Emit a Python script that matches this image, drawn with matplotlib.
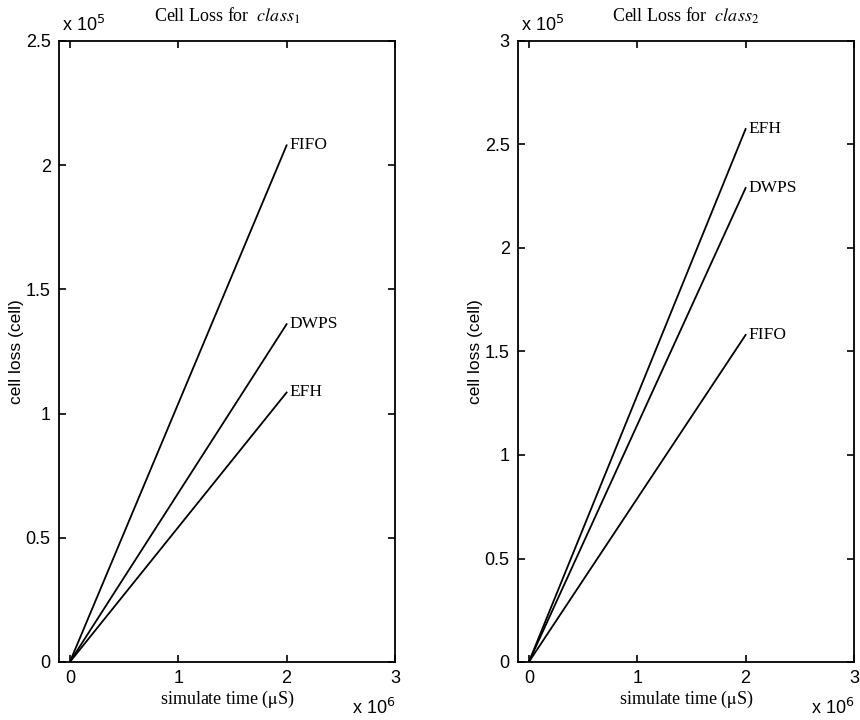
import matplotlib
matplotlib.use("Agg")
import matplotlib.pyplot as plt

plt.rcParams['mathtext.fontset'] = 'stix'
SANS = 'Liberation Sans'
SERIF = 'Liberation Serif'

# Data (x in units of 1e6 uS, y in units of 1e5 cells)
schemes = ["FIFO", "DWPS", "EFH"]
time_pts = [0.0, 2.0]
class1_end = {"FIFO": 2.08, "DWPS": 1.36, "EFH": 1.085}
class2_end = {"FIFO": 1.58, "DWPS": 2.29, "EFH": 2.575}
xticks = [0, 1, 2, 3]
yticks1 = [0, 0.5, 1, 1.5, 2, 2.5]
yticks2 = [0, 0.5, 1, 1.5, 2, 2.5, 3]
titles = [r"Cell Loss for  $\mathit{class}_1$", r"Cell Loss for  $\mathit{class}_2$"]

fig = plt.figure(figsize=(8.6, 7.2), dpi=100)
ax1 = fig.add_axes([59/860, 1-662/720, 336/860, 621/720])
ax2 = fig.add_axes([518/860, 1-662/720, 336/860, 621/720])

for ax, ends, yt, ttl in [(ax1, class1_end, yticks1, titles[0]), (ax2, class2_end, yticks2, titles[1])]:
    for s in schemes:
        ax.plot(time_pts, [0.0, ends[s]], color='black', lw=1.3)
        ax.annotate(s, xy=(time_pts[-1], ends[s]), xytext=(2, 0), textcoords='offset points',
                    va='center', ha='left', fontsize=12.5, family=SERIF)
    ax.set_xlim(-0.1, 3)
    ax.set_ylim(yt[0], yt[-1])
    ax.set_xticks(xticks)
    ax.set_xticklabels([str(v) for v in xticks], family=SANS, fontsize=13)
    ax.set_yticks(yt)
    ax.set_yticklabels([('%g' % v) for v in yt], family=SANS, fontsize=13)
    ax.tick_params(direction='in', top=True, right=True, length=5, width=1.2, pad=6)
    for sp in ax.spines.values():
        sp.set_linewidth(1.3)
    ax.set_title(ttl, fontsize=13, family=SERIF, pad=14)
    ax.set_xlabel(r"simulate time ($\mathrm{\mu}$S)", fontsize=13, family=SERIF, labelpad=1)
    ax.set_ylabel("cell loss (cell)", fontsize=12.5, family=SANS, labelpad=1)
    ax.text(0.01, 1.01, r"x 10$^5$", transform=ax.transAxes, ha='left', va='bottom',
            fontsize=13, family=SANS, math_fontfamily='dejavusans')
    ax.text(1.0, -0.058, r"x 10$^6$", transform=ax.transAxes, ha='right', va='top',
            fontsize=13, family=SANS, math_fontfamily='dejavusans')

fig.savefig("out.png", dpi=100)
